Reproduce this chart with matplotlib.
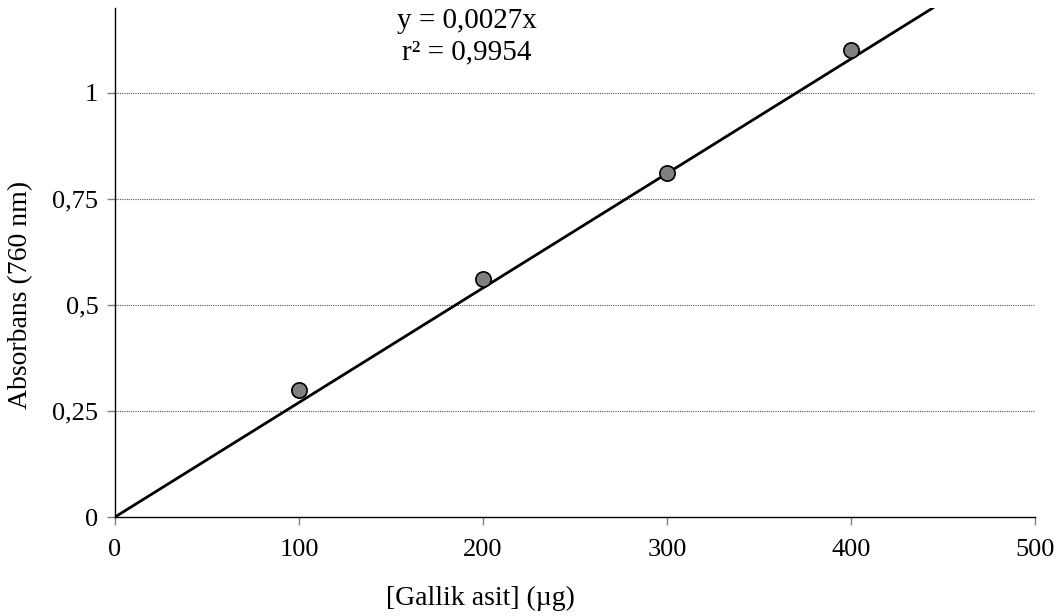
import numpy as np
import matplotlib.pyplot as plt

plt.rcParams['font.family'] = ['Liberation Serif', 'DejaVu Serif']

gallic = [100, 200, 300, 400]
absorbance = [0.30, 0.56, 0.81, 1.10]
slope = 0.0027
x_ticks = [0, 100, 200, 300, 400, 500]
y_ticks = [0, 0.25, 0.5, 0.75, 1]
y_tick_labels = ['0', '0,25', '0,5', '0,75', '1']

fig = plt.figure(figsize=(10.63, 6.16), dpi=100)
ax = fig.add_axes([115/1063, 99/616, 920/1063, 509/616])

ax.set_xlim(0, 500)
ax.set_ylim(0, 1.2)

for yv in y_ticks[1:]:
    ax.axhline(yv, color='#555555', lw=0.8, ls=(0, (1, 1)), zorder=1)

x_end = 1.2 / slope
xs = np.array([0, x_end])
ax.plot(xs, slope * xs, color='black', lw=2, zorder=2)
ax.plot(gallic, absorbance, 'o', ms=11, mfc='#808080', mec='black', mew=1.2, zorder=3)

ax.set_xticks(x_ticks)
ax.set_yticks(y_ticks)
ax.set_yticklabels(y_tick_labels)
ax.tick_params(axis='both', labelsize=19, direction='out', length=6, width=1, color='#808080')
ax.tick_params(axis='x', pad=10)
ax.tick_params(axis='y', pad=6)
for s in ['top', 'right']:
    ax.spines[s].set_visible(False)
for s in ['left', 'bottom']:
    ax.spines[s].set_linewidth(1)

ax.set_xlabel('[Gallik asit] (µg)', fontsize=20)
ax.set_ylabel('Absorbans (760 nm)', fontsize=20)
ax.xaxis.set_label_coords(480/1063, 1 - 598/616, transform=fig.transFigure)
ax.yaxis.set_label_coords(21/1063, 1 - 295/616, transform=fig.transFigure)
ax.xaxis.label.set_va('center')
ax.yaxis.label.set_va('center')

fig.text(467/1063, 1 - 21/616, 'y = 0,0027x', ha='center', va='center', fontsize=21)
fig.text(467/1063, 1 - 52/616, 'r² = 0,9954', ha='center', va='center', fontsize=21)

fig.savefig('out.png', dpi=100)
